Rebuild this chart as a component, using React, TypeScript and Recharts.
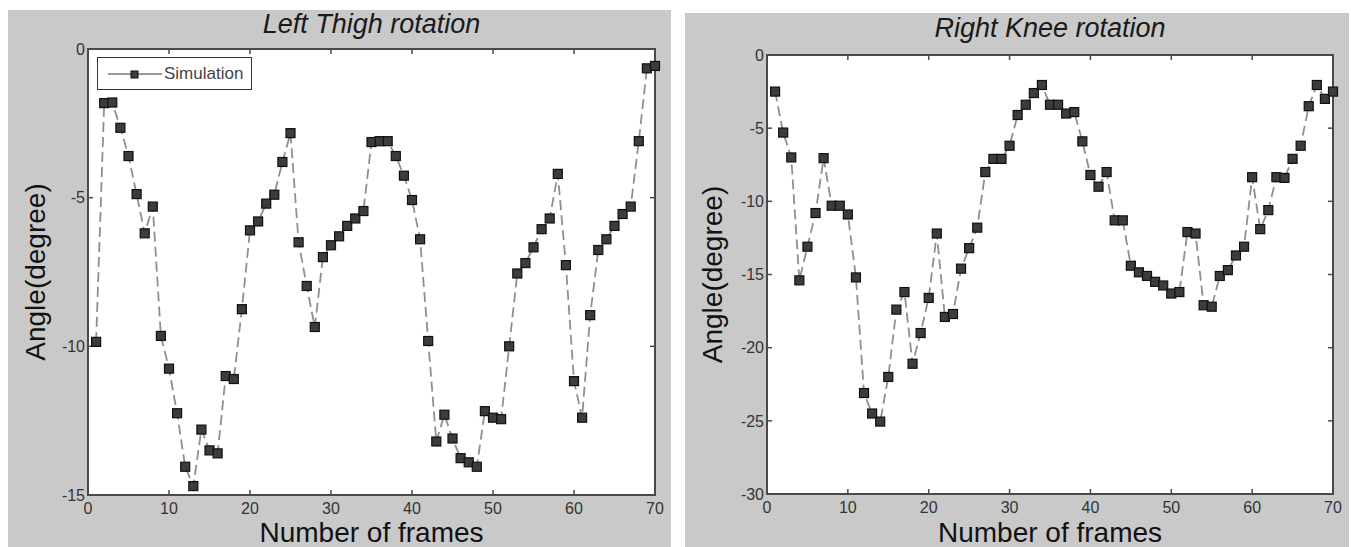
import { LineChart, Line, XAxis, YAxis, Legend, CartesianGrid, ReferenceArea } from "recharts";

const frames = [
  1, 2, 3, 4, 5, 6, 7, 8, 9, 10, 11, 12, 13, 14, 15, 16, 17, 18, 19, 20,
  21, 22, 23, 24, 25, 26, 27, 28, 29, 30, 31, 32, 33, 34, 35, 36, 37, 38, 39, 40,
  41, 42, 43, 44, 45, 46, 47, 48, 49, 50, 51, 52, 53, 54, 55, 56, 57, 58, 59, 60,
  61, 62, 63, 64, 65, 66, 67, 68, 69, 70,
];

const leftThigh = [
  -9.85, -1.82, -1.8, -2.65, -3.6, -4.88, -6.2, -5.3, -9.65, -10.75,
  -12.25, -14.05, -14.7, -12.8, -13.5, -13.6, -11.0, -11.1, -8.75, -6.1,
  -5.8, -5.2, -4.9, -3.8, -2.83, -6.5, -7.97, -9.35, -7.0, -6.6,
  -6.3, -5.95, -5.7, -5.45, -3.13, -3.1, -3.1, -3.6, -4.26, -5.08,
  -6.4, -9.82, -13.2, -12.3, -13.1, -13.76, -13.9, -14.05, -12.18, -12.4,
  -12.45, -10.0, -7.55, -7.2, -6.67, -6.06, -5.7, -4.2, -7.27, -11.17,
  -12.4, -8.95, -6.76, -6.4, -5.95, -5.55, -5.3, -3.1, -0.65, -0.57,
];

const rightKnee = [
  -2.5, -5.3, -7.0, -15.4, -13.1, -10.8, -7.05, -10.3, -10.3, -10.9,
  -15.2, -23.1, -24.5, -25.05, -22.0, -17.4, -16.2, -21.1, -19.0, -16.6,
  -12.2, -17.9, -17.7, -14.6, -13.2, -11.8, -8.0, -7.1, -7.1, -6.2,
  -4.1, -3.4, -2.6, -2.05, -3.4, -3.4, -4.0, -3.9, -5.9, -8.2,
  -9.0, -8.0, -11.3, -11.3, -14.4, -14.85, -15.1, -15.5, -15.75, -16.3,
  -16.2, -12.1, -12.2, -17.1, -17.2, -15.1, -14.7, -13.7, -13.1, -8.35,
  -11.9, -10.6, -8.35, -8.4, -7.1, -6.2, -3.5, -2.05, -3.0, -2.5,
];

const xTicks = [0, 10, 20, 30, 40, 50, 60, 70];
const leftYTicks = [-15, -10, -5, 0];
const rightYTicks = [-30, -25, -20, -15, -10, -5, 0];

const FONT = '"Liberation Sans", Arial, sans-serif';
const AXIS = "#4a4a4a";
const PANEL_BG = "#c9c9c9";

const leftRows = frames.map((f, i) => ({ frame: f, angle: leftThigh[i] }));
const rightRows = frames.map((f, i) => ({ frame: f, angle: rightKnee[i] }));

function SquareDot(props: any) {
  const { cx, cy, index } = props;
  if (cx == null || cy == null) return <g key={index} />;
  return (
    <rect
      key={index}
      x={cx - 4.5}
      y={cy - 4.5}
      width={9}
      height={9}
      fill="#3c3c3c"
      stroke="#101010"
      strokeWidth={1.2}
    />
  );
}

function LegendBox() {
  return (
    <div
      style={{
        width: 153,
        height: 31,
        border: "1.5px solid #333",
        background: "#fff",
        display: "flex",
        alignItems: "center",
        fontFamily: FONT,
        fontSize: 17,
        color: "#444",
      }}
    >
      <svg width={66} height={30}>
        <line x1={10} y1={15} x2={64} y2={15} stroke="#777" strokeWidth={1.5} />
        <rect x={33} y={12} width={7} height={7} fill="#3c3c3c" stroke="#101010" strokeWidth={1} />
      </svg>
      <span>Simulation</span>
    </div>
  );
}

type PanelProps = {
  x: number;
  y: number;
  w: number;
  h: number;
  m: { left: number; top: number; right: number; bottom: number };
  title: string;
  titleTop: number;
  rows: { frame: number; angle: number }[];
  yTicks: number[];
  xLabelOffset: number;
  legend?: boolean;
};

function Panel({ x, y, w, h, m, title, titleTop, rows, yTicks, xLabelOffset, legend }: PanelProps) {
  const yDomain = [yTicks[0], yTicks[yTicks.length - 1]];
  const cx = (m.left + (w - m.right)) / 2;
  return (
    <div style={{ position: "absolute", left: x, top: y, width: w, height: h, background: PANEL_BG }}>
      <LineChart width={w} height={h} data={rows} margin={{ top: m.top - 1, right: m.right - 1, left: 0, bottom: 0 }}>
        <CartesianGrid xAxisId="b" yAxisId="l" fill="#fff" stroke="none" />
        <XAxis
          xAxisId="b"
          dataKey="frame"
          type="number"
          domain={[0, 70]}
          ticks={xTicks}
          interval={0}
          height={m.bottom}
          tickSize={-5}
          tickMargin={13}
          axisLine={{ stroke: AXIS, strokeWidth: 2 }}
          tickLine={{ stroke: AXIS, strokeWidth: 1.5 }}
          tick={{ fontSize: 16, fill: "#333", fontFamily: FONT }}
          label={{
            value: "Number of frames",
            position: "insideBottom",
            offset: xLabelOffset,
            style: { fontSize: 28, fill: "#111", fontFamily: FONT },
          }}
        />
        <XAxis
          xAxisId="t"
          orientation="top"
          dataKey="frame"
          type="number"
          domain={[0, 70]}
          ticks={xTicks}
          interval={0}
          height={1}
          tickSize={-5}
          tickFormatter={() => ""}
          axisLine={{ stroke: AXIS, strokeWidth: 2 }}
          tickLine={{ stroke: AXIS, strokeWidth: 1.5 }}
        />
        <YAxis
          yAxisId="l"
          type="number"
          domain={yDomain}
          ticks={yTicks}
          interval={0}
          width={m.left}
          tickSize={-5}
          tickMargin={8}
          axisLine={{ stroke: AXIS, strokeWidth: 2 }}
          tickLine={{ stroke: AXIS, strokeWidth: 1.5 }}
          tick={{ fontSize: 16, fill: "#333", fontFamily: FONT }}
          label={{
            value: "Angle(degree)",
            angle: -90,
            position: "insideLeft",
            offset: 27,
            style: { fontSize: 28, fill: "#111", fontFamily: FONT, textAnchor: "middle" },
          }}
        />
        <YAxis
          yAxisId="r"
          orientation="right"
          type="number"
          domain={yDomain}
          ticks={yTicks}
          interval={0}
          width={1}
          tickSize={-5}
          tickFormatter={() => ""}
          axisLine={{ stroke: AXIS, strokeWidth: 2 }}
          tickLine={{ stroke: AXIS, strokeWidth: 1.5 }}
        />
        {/* plot frame */}
        <ReferenceArea
          xAxisId="b"
          yAxisId="l"
          x1={0}
          x2={70}
          y1={yDomain[0]}
          y2={yDomain[1]}
          fill="none"
          stroke={AXIS}
          strokeWidth={2}
          ifOverflow="visible"
        />
        {legend && (
          <Legend
            layout="vertical"
            verticalAlign="middle"
            align="center"
            wrapperStyle={{ position: "absolute", left: 89, top: 47, width: "auto" }}
            content={() => <LegendBox />}
          />
        )}
        {/* invisible twin so the top/right frame axes get drawn */}
        <Line
          xAxisId="t"
          yAxisId="r"
          dataKey="angle"
          stroke="none"
          dot={false}
          activeDot={false}
          legendType="none"
          isAnimationActive={false}
        />
        <Line
          xAxisId="b"
          yAxisId="l"
          dataKey="angle"
          name="Simulation"
          type="linear"
          stroke="#8f8f8f"
          strokeWidth={1.8}
          strokeDasharray="10 5"
          dot={SquareDot}
          activeDot={false}
          isAnimationActive={false}
        />
      </LineChart>
      <div
        style={{
          position: "absolute",
          top: titleTop,
          left: cx - 200,
          width: 400,
          textAlign: "center",
          fontFamily: FONT,
          fontStyle: "italic",
          fontSize: 27,
          lineHeight: "27px",
          color: "#1a1a1a",
        }}
      >
        {title}
      </div>
    </div>
  );
}

export default function App() {
  return (
    <div style={{ position: "absolute", left: 0, top: 0, width: 1351, height: 547, background: "#fff", overflow: "hidden" }}>
      <Panel
        x={8}
        y={10}
        w={663}
        h={537}
        m={{ left: 80, top: 39, right: 16, bottom: 52 }}
        title="Left Thigh rotation"
        titleTop={1}
        rows={leftRows}
        yTicks={leftYTicks}
        xLabelOffset={5}
        legend
      />
      <Panel
        x={685}
        y={13}
        w={664}
        h={534}
        m={{ left: 82, top: 42, right: 16, bottom: 53 }}
        title="Right Knee rotation"
        titleTop={2}
        rows={rightRows}
        yTicks={rightYTicks}
        xLabelOffset={5}
      />
    </div>
  );
}
